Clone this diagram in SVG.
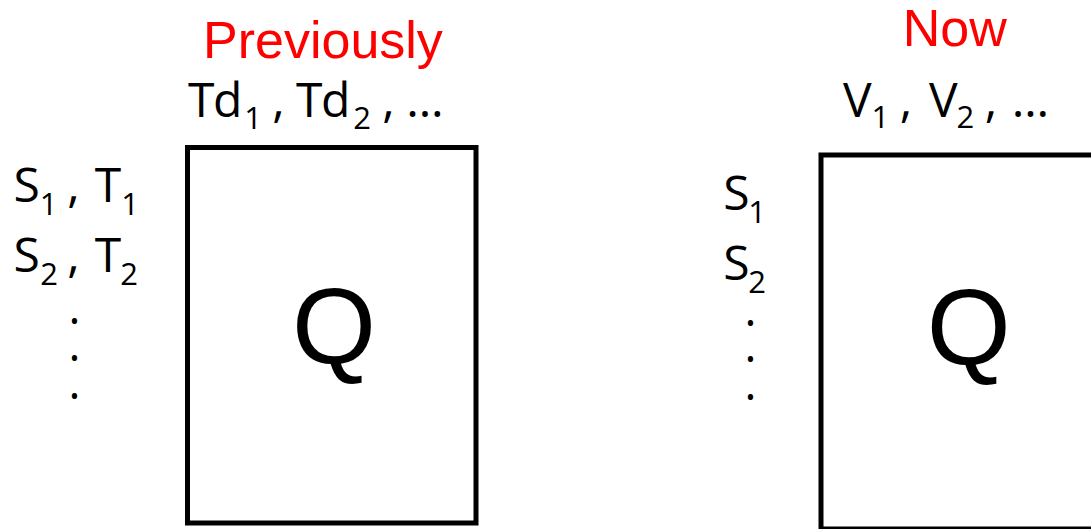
<svg xmlns="http://www.w3.org/2000/svg" width="1091" height="529" viewBox="0 0 1091 529">
<style>
.box{fill:#fff;stroke:#000;stroke-width:5}
.title{font-family:"Liberation Sans",Arial,sans-serif;font-size:52px;fill:#f00}
.q{font-family:"Liberation Sans",Arial,sans-serif;font-size:108px;fill:#000;text-anchor:middle}
.lb{font-family:"Open Sans","Noto Sans",sans-serif;font-size:48px;fill:#000;text-anchor:middle}
.lbs{font-family:"Open Sans","Noto Sans",sans-serif;font-size:48px;fill:#000;letter-spacing:-1.5px}
.sub{font-family:"Open Sans","Noto Sans",sans-serif;font-size:31px;fill:#000;text-anchor:middle}
.dot{font-family:"Open Sans","Noto Sans",sans-serif;font-size:25px;fill:#000;text-anchor:middle}
</style>
<rect width="1091" height="529" fill="#fff"/>
<g id="previously">
  <text class="title" x="203" y="58">Previously</text>
  <g id="prev-columns">
    <text class="lbs" x="188" y="117">Td</text>
    <text class="sub" x="253" y="129">1</text>
    <text class="lb" x="278.5" y="117">,</text>
    <text class="lbs" x="296" y="117">Td</text>
    <text class="sub" x="362" y="129">2</text>
    <text class="lb" x="388.5" y="117">,</text>
    <text class="lb" x="425" y="117">…</text>
  </g>
  <g id="prev-rows">
    <text class="lb" x="26.7" y="201.7">S</text>
    <text class="sub" x="48.5" y="215">1</text>
    <text class="lb" x="73.5" y="201.7">,</text>
    <text class="lb" x="108" y="201.7">T</text>
    <text class="sub" x="130" y="215">1</text>
    <text class="lb" x="26.7" y="271.7">S</text>
    <text class="sub" x="49" y="285">2</text>
    <text class="lb" x="73.5" y="271.7">,</text>
    <text class="lb" x="108" y="271.7">T</text>
    <text class="sub" x="129" y="285">2</text>
    <text class="dot" x="74.5" y="330">•</text>
    <text class="dot" x="74.5" y="366.5">•</text>
    <text class="dot" x="74.5" y="404.5">•</text>
  </g>
  <g id="prev-q">
    <rect class="box" x="187.5" y="147.5" width="288.5" height="375.5"/>
    <text class="q" x="334" y="364">Q</text>
  </g>
</g>
<g id="now">
  <text class="title" x="902.7" y="46">Now</text>
  <g id="now-columns">
    <text class="lb" x="857.2" y="116.7">V</text>
    <text class="sub" x="880.3" y="128.3">1</text>
    <text class="lb" x="906" y="116.7">,</text>
    <text class="lb" x="943.3" y="116.7">V</text>
    <text class="sub" x="965.3" y="128.3">2</text>
    <text class="lb" x="991" y="116.7">,</text>
    <text class="lb" x="1030.5" y="116.7">…</text>
  </g>
  <g id="now-rows">
    <text class="lb" x="736.3" y="210">S</text>
    <text class="sub" x="757" y="222.7">1</text>
    <text class="lb" x="736.3" y="280">S</text>
    <text class="sub" x="757" y="292.7">2</text>
    <text class="dot" x="750.5" y="331.5">•</text>
    <text class="dot" x="750.5" y="368.2">•</text>
    <text class="dot" x="750.5" y="405.5">•</text>
  </g>
  <g id="now-q">
    <rect class="box" x="821" y="155" width="300" height="374"/>
    <text class="q" x="968.7" y="365">Q</text>
  </g>
</g>
</svg>
